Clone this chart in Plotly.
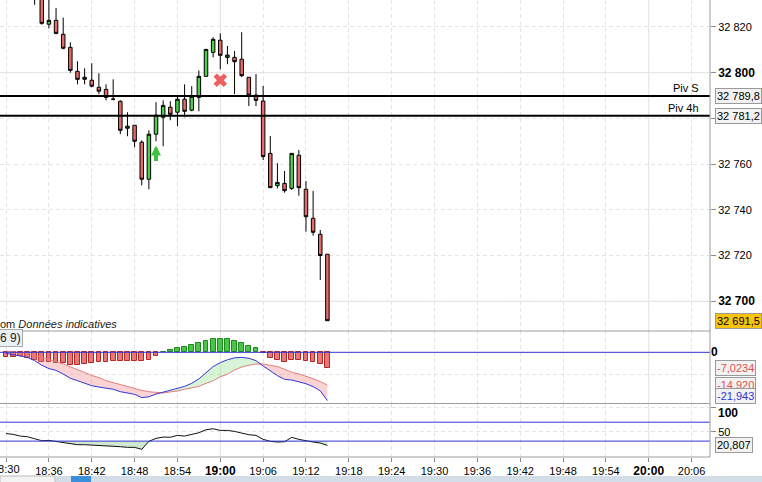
import plotly.graph_objects as go
import pandas as pd

# --- bougies 1 minute, 18:34 -> 19:15 ---
candle_start = "2024-01-15 18:34"
opens = [32838.0, 32834.5, 32821.2, 32822.9, 32816.8, 32811.1, 32800.6, 32798.0, 32796.7, 32793.6,
         32792.7, 32788.4, 32787.5, 32775.7, 32777.0, 32769.6, 32753.4, 32773.1, 32780.5, 32784.9,
         32782.7, 32788.4, 32783.6, 32789.2, 32798.4, 32808.9, 32814.2, 32806.7, 32806.7, 32805.9,
         32798.0, 32790.2, 32787.6, 32764.7, 32750.6, 32751.6, 32749.4, 32763.9, 32749.0, 32736.3,
         32729.3, 32720.6]
highs = [32841.0, 32836.0, 32834.0, 32828.3, 32824.1, 32813.3, 32805.0, 32801.9, 32804.1, 32799.7,
         32794.9, 32797.1, 32787.9, 32782.7, 32777.0, 32770.4, 32774.8, 32787.1, 32787.9, 32787.5,
         32789.7, 32794.9, 32794.1, 32801.0, 32810.2, 32815.5, 32817.2, 32811.7, 32809.5, 32817.7,
         32798.0, 32799.4, 32794.2, 32772.3, 32760.4, 32757.0, 32764.7, 32766.2, 32752.6, 32748.3,
         32731.2, 32720.6]
lows = [32829.7, 32821.0, 32819.4, 32816.8, 32810.2, 32800.0, 32794.9, 32794.9, 32793.6, 32790.6,
        32787.9, 32787.9, 32773.1, 32772.2, 32767.4, 32750.7, 32749.0, 32770.0, 32767.8, 32779.2,
        32776.6, 32780.5, 32783.1, 32783.1, 32798.4, 32806.7, 32801.5, 32803.7, 32790.7, 32798.0,
        32785.4, 32785.4, 32761.8, 32749.7, 32749.4, 32747.5, 32748.7, 32746.2, 32730.5, 32728.7,
        32709.3, 32691.5]
closes = [32834.0, 32821.6, 32822.9, 32817.2, 32810.7, 32801.0, 32797.1, 32797.1, 32794.1, 32791.9,
          32789.2, 32788.4, 32774.8, 32776.6, 32770.0, 32753.4, 32773.1, 32781.4, 32785.7, 32781.8,
          32788.4, 32783.1, 32789.7, 32798.4, 32810.2, 32814.6, 32807.6, 32807.7, 32804.8, 32798.7,
          32790.2, 32787.9, 32763.3, 32749.7, 32752.0, 32748.4, 32764.7, 32749.7, 32737.0, 32730.2,
          32720.0, 32691.5]

# --- indicateurs, 18:30 -> 19:15 ---
ind_start = "2024-01-15 18:30"
macd_line = [-0.5, -1.1, -1.7, -2.3, -3.8, -5.9, -7.4, -8.2, -9.9, -11.8, -12.9, -14.1, -15.2, -15.8,
             -16.2, -16.8, -17.9, -18.5, -19.1, -20.6, -20.2, -19.0, -18.1, -17.5, -16.4, -15.5,
             -14.1, -12.1, -9.3, -6.5, -4.7, -3.4, -2.5, -2.3, -2.7, -3.8, -6.2, -8.4, -10.6,
             -12.3, -12.6, -13.4, -14.3, -15.6, -17.5, -21.943]
signal_line = [0.6, 0.3, -0.2, -0.5, -1.2, -2.1, -3.3, -4.2, -5.3, -6.5, -7.9, -9.2, -10.5, -11.5,
               -12.9, -13.8, -14.7, -15.5, -16.4, -17.3, -17.9, -18.3, -18.5, -18.0, -17.6, -16.8,
               -16.2, -15.5, -14.1, -13.0, -11.1, -10.0, -8.0, -6.7, -5.9, -5.3, -5.3, -5.8, -6.5,
               -7.7, -9.1, -9.8, -10.8, -12.0, -13.3, -14.920]
macd_hist = [-2.0, -2.0, -1.9, -2.7, -3.5, -4.2, -4.5, -4.7, -5.0, -5.6, -5.9, -5.1, -4.8, -4.5,
             -4.5, -4.1, -4.1, -3.9, -4.1, -4.1, -3.5, -1.7, 0.0, 0.9, 1.8, 2.3, 3.2, 4.1, 5.0,
             5.9, 5.9, 5.9, 5.0, 4.1, 2.7, 1.8, -0.5, -2.7, -3.6, -4.5, -3.6, -3.6, -4.1, -4.5,
             -5.5, -7.0234]
rsi_line = [46.0, 44.2, 40.6, 39.2, 35.0, 30.8, 31.5, 29.5, 26.6, 24.5, 22.4, 22.4, 21.7, 21.7,
            20.3, 19.6, 18.2, 16.8, 16.8, 12.6, 29.5, 35.8, 38.5, 38.1, 42.1, 40.6, 43.5, 47.7,
            54.0, 56.1, 52.6, 52.6, 50.5, 46.9, 43.5, 42.1, 33.7, 29.5, 28.0, 28.7, 37.9, 33.7,
            30.1, 28.0, 25.9, 20.807]
rsi_levels = [70, 30]

pivot_names = ["Piv S", "Piv 4h"]
pivot_levels = [32789.8, 32781.2]

buy_time, buy_price = "2024-01-15 18:51", 32768.1
exit_time, exit_price = "2024-01-15 19:00", 32796.7

price_ticks = [32700, 32720, 32740, 32760, 32780, 32800, 32820]
hidden_ticks = [32780]
time_ticks = pd.date_range("2024-01-15 18:30", "2024-01-15 20:06", freq="6min")
x_range = ["2024-01-15 18:29:09", "2024-01-15 20:08:35"]

candle_times = pd.date_range(candle_start, periods=len(opens), freq="min")
ind_times = pd.date_range(ind_start, periods=len(macd_line), freq="min")


def fr(v, dec):
    return f"{v:,.{dec}f}".replace(",", " ").replace(".", ",")


# --- geometrie ---
W, H = 762, 482
M = dict(l=0, r=52, t=0, b=25)
PW, PH = W - M["l"] - M["r"], H - M["t"] - M["b"]


def py(y):
    return (PH - y) / PH


def pxx(x):
    return x / PW


FONT = "Liberation Sans, Arial, sans-serif"
GRID = "#e4e4e4"
BORDER = "#9c9c9c"
BLUE = "#3434d6"
SIG = "#e67c7c"

fig = go.Figure()

# prix
fig.add_trace(go.Candlestick(
    x=candle_times, open=opens, high=highs, low=lows, close=closes,
    increasing=dict(fillcolor="#4ccf4c", line=dict(color="black", width=1)),
    decreasing=dict(fillcolor="#e66a6a", line=dict(color="black", width=1)),
    whiskerwidth=0, xaxis="x", yaxis="y", hoverinfo="skip"))

fig.add_trace(go.Scatter(
    x=[pd.Timestamp(exit_time)], y=[exit_price], mode="markers", xaxis="x", yaxis="y",
    marker=dict(symbol="x", size=12, color="#ec6060", line=dict(width=0))))

# MACD
hist_fill = ["#ea7676" if v < 0 else "#46c846" for v in macd_hist]
hist_edge = ["#b02828" if v < 0 else "#1f8a1f" for v in macd_hist]
fig.add_trace(go.Bar(x=ind_times, y=macd_hist, width=40000, xaxis="x2", yaxis="y2",
                     marker=dict(color=hist_fill, line=dict(color=hist_edge, width=1))))

low_env = [min(m, s) for m, s in zip(macd_line, signal_line)]
high_env = [max(m, s) for m, s in zip(macd_line, signal_line)]
fig.add_trace(go.Scatter(x=ind_times, y=signal_line, mode="lines", line=dict(width=0),
                         xaxis="x2", yaxis="y2"))
fig.add_trace(go.Scatter(x=ind_times, y=low_env, mode="lines", line=dict(width=0),
                         fill="tonexty", fillcolor="rgba(238,120,120,0.32)", xaxis="x2", yaxis="y2"))
fig.add_trace(go.Scatter(x=ind_times, y=signal_line, mode="lines", line=dict(width=0),
                         xaxis="x2", yaxis="y2"))
fig.add_trace(go.Scatter(x=ind_times, y=high_env, mode="lines", line=dict(width=0),
                         fill="tonexty", fillcolor="rgba(130,220,130,0.32)", xaxis="x2", yaxis="y2"))
fig.add_trace(go.Scatter(x=ind_times, y=signal_line, mode="lines", line=dict(color=SIG, width=1),
                         xaxis="x2", yaxis="y2"))
fig.add_trace(go.Scatter(x=ind_times, y=macd_line, mode="lines", line=dict(color=BLUE, width=1),
                         xaxis="x2", yaxis="y2"))

# RSI
low_level = rsi_levels[1]
fig.add_trace(go.Scatter(x=ind_times, y=[low_level] * len(rsi_line), mode="lines",
                         line=dict(width=0), xaxis="x3", yaxis="y3"))
fig.add_trace(go.Scatter(x=ind_times, y=[min(r, low_level) for r in rsi_line], mode="lines",
                         line=dict(width=0), fill="tonexty", fillcolor="rgba(150,205,150,0.45)",
                         xaxis="x3", yaxis="y3"))
fig.add_trace(go.Scatter(x=ind_times, y=rsi_line, mode="lines", line=dict(color="#111", width=1),
                         xaxis="x3", yaxis="y3"))

# --- formes ---
shapes = []
for lvl in pivot_levels:
    shapes.append(dict(type="line", xref="paper", x0=0, x1=1, yref="y", y0=lvl, y1=lvl,
                       line=dict(color="black", width=2)))
shapes.append(dict(type="line", xref="paper", x0=0, x1=1, yref="y2", y0=0, y1=0,
                   line=dict(color=BLUE, width=1)))
for lvl in rsi_levels:
    shapes.append(dict(type="line", xref="paper", x0=0, x1=1, yref="y3", y0=lvl, y1=lvl,
                       line=dict(color=BLUE, width=1)))
# grille principale pleine
for t in time_ticks:
    if t.minute == 0:
        shapes.append(dict(type="line", xref="x", x0=t, x1=t, yref="paper", y0=0, y1=1,
                           line=dict(color=GRID, width=1), layer="between"))
for v in price_ticks:
    if v % 100 == 0:
        shapes.append(dict(type="line", xref="paper", x0=0, x1=1, yref="y", y0=v, y1=v,
                           line=dict(color=GRID, width=1), layer="between"))
# bordures des panneaux
for yb in [331, 403.5, 457]:
    shapes.append(dict(type="line", xref="paper", x0=0, x1=1, yref="paper", y0=py(yb), y1=py(yb),
                       line=dict(color=BORDER, width=1)))
shapes.append(dict(type="line", xref="paper", x0=1, x1=1, yref="paper", y0=0, y1=1,
                   line=dict(color=BORDER, width=1)))
# barre de fenetre en bas
shapes.append(dict(type="rect", xref="paper", x0=0, x1=pxx(W), yref="paper", y0=py(476), y1=py(483),
                   fillcolor="#d3dde8", line=dict(width=0)))
shapes.append(dict(type="rect", xref="paper", x0=0, x1=pxx(55), yref="paper", y0=py(476), y1=py(483),
                   fillcolor="#f3f3f3", line=dict(color="#bdbdbd", width=1)))
shapes.append(dict(type="rect", xref="paper", x0=pxx(71), x1=pxx(91), yref="paper", y0=py(476), y1=py(483),
                   fillcolor="#3a8edc", line=dict(width=0)))

# --- textes ---
ann = []


def box(text, yref, y, color="black", bg="#f2f2f2", yshift=0):
    ann.append(dict(text=text, xref="paper", x=1, xanchor="left", xshift=5, yref=yref, y=y,
                    yanchor="middle", yshift=yshift, showarrow=False, bgcolor=bg,
                    bordercolor="#9a9a9a", borderwidth=1, borderpad=1,
                    font=dict(family=FONT, size=11, color=color)))


for name, lvl in zip(pivot_names, pivot_levels):
    ann.append(dict(text=name, xref="paper", x=1, xanchor="right", xshift=-9, yref="y", y=lvl,
                    yanchor="bottom", yshift=0, showarrow=False,
                    font=dict(family=FONT, size=11, color="black")))
    box(fr(lvl, 1), "y", lvl)
box(fr(closes[-1], 1), "y", closes[-1], bg="#f8c30c")
box(fr(macd_hist[-1], 4), "y2", macd_hist[-1], color="#e05050")
box(fr(signal_line[-1], 3), "y2", signal_line[-1], color="#e05050")
box(fr(macd_line[-1], 3), "y2", macd_line[-1], color=BLUE, yshift=5)
box(fr(rsi_line[-1], 3), "y3", rsi_line[-1])
ann.append(dict(text="<b>100</b>", xref="paper", x=1, xanchor="left", xshift=6, yref="paper",
                y=py(412.5), yanchor="middle", showarrow=False,
                font=dict(family=FONT, size=12, color="black")))
ann.append(dict(text="om <i>Données indicatives</i>", xref="paper", x=0, xanchor="left", xshift=-2,
                yref="paper", y=py(324.5), yanchor="middle", showarrow=False,
                font=dict(family=FONT, size=11, color="#222")))
ann.append(dict(text="(6 9)", xref="paper", x=0, xanchor="left", xshift=-6, yref="paper",
                y=py(337.5), yanchor="middle", showarrow=False, bgcolor="#edf2f7",
                bordercolor="#a8a8a8", borderwidth=1, borderpad=1,
                font=dict(family=FONT, size=12, color="#222")))
# premier libelle horaire, coupe au bord gauche comme sur l'original
ann.append(dict(text=f"{time_ticks[0]:%H:%M}", xref="x3", x=time_ticks[0], xanchor="center",
                yref="paper", y=py(469), yanchor="middle", showarrow=False,
                font=dict(family=FONT, size=11, color="black")))
# signal d'achat
ann.append(dict(text="", x=pd.Timestamp(buy_time), y=buy_price, xref="x", yref="y",
                font=dict(size=1), showarrow=True, ax=0, ay=17, arrowhead=2, arrowsize=0.5,
                arrowwidth=4, arrowcolor="#3cc43c"))

price_text = []
for v in price_ticks:
    if v in hidden_ticks:
        price_text.append("")
    elif v % 100 == 0:
        price_text.append(f"<span style='font-size:12px'><b>{fr(v, 0)}</b></span>")
    else:
        price_text.append(fr(v, 0))
time_text = [f"<span style='font-size:12px'><b>{t:%H:%M}</b></span>" if t.minute == 0
             else f"{t:%H:%M}" for t in time_ticks]

xcommon = dict(type="date", range=x_range, tickvals=time_ticks, showgrid=True, gridcolor=GRID,
               griddash="4px,3px", zeroline=False, showline=False, domain=[0, 1])
ycommon = dict(side="right", showgrid=True, gridcolor=GRID, griddash="4px,3px", zeroline=False,
               showline=False, tickfont=dict(family=FONT, size=11, color="black"))

fig.update_layout(
    width=W, height=H, margin=M, showlegend=False,
    paper_bgcolor="white", plot_bgcolor="white",
    font=dict(family=FONT, size=11, color="black"),
    bargap=0,
    xaxis=dict(**xcommon, anchor="y", showticklabels=False, ticks="", rangeslider=dict(visible=False)),
    xaxis2=dict(**xcommon, anchor="y2", matches="x", showticklabels=False, ticks=""),
    xaxis3=dict(**xcommon, anchor="y3", matches="x", ticktext=time_text, ticks="outside",
                ticklen=4, tickcolor="#8a8a8a", tickfont=dict(family=FONT, size=11, color="black")),
    yaxis=dict(**ycommon, domain=[py(331), 1], anchor="x", range=[32687.0, 32831.8],
               tickvals=price_ticks, ticktext=price_text, ticks="outside", ticklen=5,
               tickcolor="#8a8a8a"),
    yaxis2=dict(**ycommon, domain=[py(403.5), py(331)], anchor="x2", range=[-23.27, 9.68],
                tickvals=[0, -10], ticktext=["<span style='font-size:12px'><b>0</b></span>", ""],
                ticks=""),
    yaxis3=dict(**ycommon, domain=[0, py(403.5)], anchor="x3", range=[-3.6, 109.5],
                tickvals=[100, 50], ticktext=["", "50"], ticks="outside", ticklen=5,
                tickcolor="#8a8a8a"),
    shapes=shapes, annotations=ann,
)

fig.write_html("out.html", config={"displayModeBar": False},
               post_script="document.body.style.margin='0px';document.body.style.overflow='hidden';")
